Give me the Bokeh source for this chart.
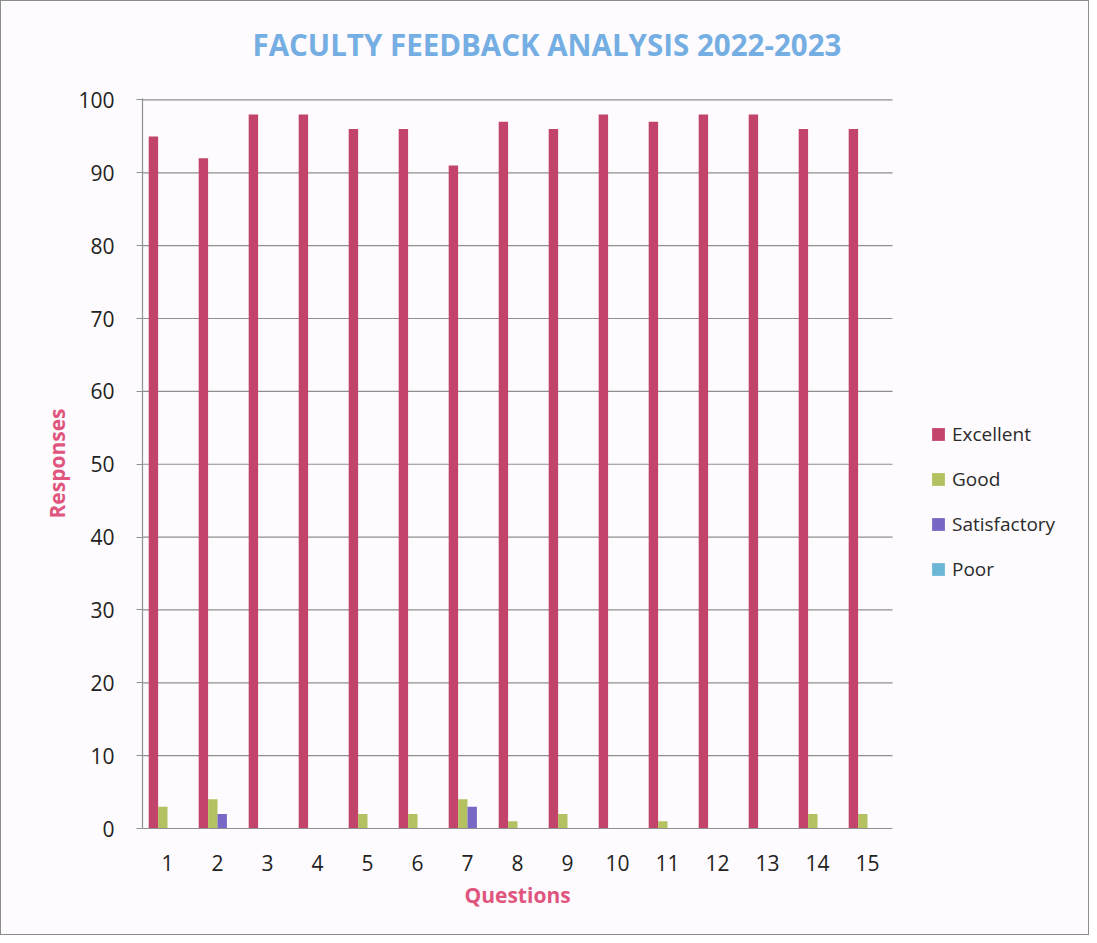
from bokeh.plotting import figure
from bokeh.models import ColumnDataSource, Legend, LegendItem, Title, FixedTicker, Range1d
from bokeh.transform import dodge
from bokeh.embed import file_html
from bokeh.resources import INLINE

questions = list(range(1, 16))
excellent = [95, 92, 98, 98, 96, 96, 91, 97, 96, 98, 97, 98, 98, 96, 96]
good = [3, 4, 0, 0, 2, 2, 4, 1, 2, 0, 1, 0, 0, 2, 2]
satisfactory = [0, 2, 0, 0, 0, 0, 3, 0, 0, 0, 0, 0, 0, 0, 0]
poor = [0, 0, 0, 0, 0, 0, 0, 0, 0, 0, 0, 0, 0, 0, 0]
series_names = ["Excellent", "Good", "Satisfactory", "Poor"]
colors = ["#c2446a", "#b3c160", "#7a66c4", "#6cb6d6"]
y_ticks = list(range(0, 101, 10))

src = ColumnDataSource(dict(q=questions, Excellent=excellent, Good=good,
                            Satisfactory=satisfactory, Poor=poor))

FONT = "Open Sans"
BG = "#fdfbfd"
GRID = "#8f8f8f"
PINK = "#e0557e"

x_lo, x_hi = 0.5, 15.5
# frame extends into the legend area; axis and grid are bounded to the data area
p = figure(width=1089, height=935, output_backend="svg", toolbar_location=None,
           x_range=Range1d(x_lo, x_hi + 3.96), y_range=Range1d(0, 100.2),
           min_border_left=141, min_border_right=0, min_border_top=97,
           min_border_bottom=108, background_fill_color=BG, border_fill_color=BG)
p.styles = {"border": "1px solid #8c8c8c"}
p.outline_line_color = None
p.xgrid.grid_line_color = None
p.ygrid.grid_line_color = None

# horizontal gridlines over the plot area only
p.segment(x0=[x_lo] * (len(y_ticks) - 1), x1=[x_hi] * (len(y_ticks) - 1),
          y0=y_ticks[1:], y1=y_ticks[1:], line_color=GRID, line_width=1.2)

w = 0.188
offsets = [-1.5 * w, -0.5 * w, 0.5 * w, 1.5 * w]
renderers = []
for name, col, off in zip(series_names, colors, offsets):
    r = p.vbar(x=dodge("q", off), top=name, width=w, source=src,
               fill_color=col, line_color=None)
    renderers.append(r)

legend = Legend(items=[LegendItem(label=n, renderers=[r]) for n, r in zip(series_names, renderers)],
                location=(788, 246), orientation="vertical")
legend.label_text_font = FONT
legend.label_text_font_size = "19px"
legend.label_text_color = "#2a2a2a"
legend.glyph_width = 16
legend.glyph_height = 16
legend.label_height = 20
legend.spacing = 19
legend.label_standoff = 6
legend.padding = 0
legend.margin = 0
legend.background_fill_alpha = 0
legend.border_line_color = None
p.add_layout(legend, "center")

spacer = Title(text=" ", text_font_size="12px", text_font=FONT)
p.add_layout(spacer, "above")
title = Title(text="FACULTY FEEDBACK ANALYSIS 2022-2023", align="left", offset=110,
              text_font=FONT, text_font_size="29.5px", text_font_style="bold",
              text_color="#74aee2")
p.add_layout(title, "above")

# x-axis title centred under the bar area (the frame is wider than the bars)
xtitle = Title(text="Questions", align="left", offset=322, text_font=FONT,
               text_font_size="21px", text_font_style="bold", text_color=PINK)
p.add_layout(xtitle, "below")

p.xaxis.ticker = FixedTicker(ticks=questions)
p.yaxis.ticker = FixedTicker(ticks=y_ticks)
p.xaxis.bounds = (x_lo, x_hi)

for ax in (p.xaxis, p.yaxis):
    ax.axis_line_color = "#8f8f96"
    ax.axis_line_width = 1.2
    ax.major_label_text_font = FONT
    ax.major_label_text_font_size = "21px"
    ax.major_label_text_color = "#222222"
    ax.minor_tick_line_color = None
    ax.axis_label_text_font = FONT
    ax.axis_label_text_font_size = "21px"
    ax.axis_label_text_font_style = "bold"
    ax.axis_label_text_color = PINK

p.xaxis.major_tick_line_color = None
p.xaxis.major_label_standoff = 20
p.yaxis.major_tick_line_color = "#8f8f96"
p.yaxis.major_tick_in = 0
p.yaxis.major_tick_out = 6
p.yaxis.major_label_standoff = 22
p.yaxis.axis_label = "Responses"
p.yaxis.axis_label_standoff = 4

open("out.html", "w").write(file_html(p, INLINE))
